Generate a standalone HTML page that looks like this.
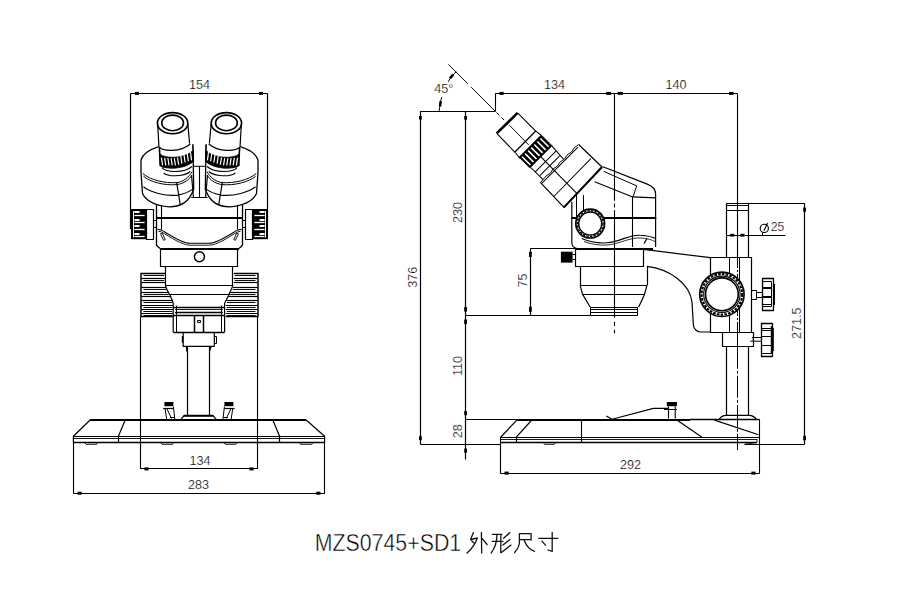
<!DOCTYPE html>
<html><head><meta charset="utf-8"><style>
html,body{margin:0;padding:0;background:#fff;}
body{width:912px;height:598px;overflow:hidden;}
svg{display:block;}
text{font-family:"Liberation Sans",sans-serif;fill:#000;stroke:#fff;stroke-width:0.22px;}
</style></head><body>
<svg width="912" height="598" viewBox="0 0 912 598">
<rect x="0" y="0" width="912" height="598" fill="#fff"/>
<g fill="none" stroke="#000" stroke-linecap="butt" stroke-linejoin="round">
<ellipse cx="172.6" cy="123.2" rx="15.2" ry="10.6" stroke-width="1.6" fill="none" />
<ellipse cx="172.6" cy="122.9" rx="10.9" ry="7.8" stroke-width="1.6" fill="none" />
<line x1="157.6" y1="123.5" x2="159.0" y2="147.5" stroke-width="1.2" />
<line x1="187.8" y1="123.5" x2="189.6" y2="143.5" stroke-width="1.2" />
<path d="M159.2,147.2 C163,151.5 180,152.5 190.3,144" stroke-width="1.2" fill="none" />
<line x1="159.4" y1="147.6" x2="160.3" y2="166.0" stroke-width="1.6" />
<line x1="192.9" y1="144.2" x2="193.3" y2="161.5" stroke-width="1.6" />
<path d="M159.8,154.0 C165,158.5 183,159.5 193.2,150.5 L193.3,161.5 C185,169.5 166,169.5 160.3,166.0 Z" stroke-width="0.8" fill="#000" />
<line x1="161.4" y1="157.7" x2="162.6" y2="165.3" stroke-width="1.2" stroke="#fff"/>
<line x1="164.62222222222223" y1="157.8111111111111" x2="165.82222222222222" y2="165.3" stroke-width="1.2" stroke="#fff"/>
<line x1="167.84444444444446" y1="157.92222222222222" x2="169.04444444444445" y2="165.3" stroke-width="1.2" stroke="#fff"/>
<line x1="171.06666666666666" y1="158.03333333333333" x2="172.26666666666665" y2="165.3" stroke-width="1.2" stroke="#fff"/>
<line x1="174.2888888888889" y1="158.14444444444445" x2="175.48888888888888" y2="165.3" stroke-width="1.2" stroke="#fff"/>
<line x1="177.51111111111112" y1="157.47777777777776" x2="178.7111111111111" y2="164.74444444444447" stroke-width="1.2" stroke="#fff"/>
<line x1="180.73333333333335" y1="156.03333333333333" x2="181.93333333333334" y2="163.63333333333335" stroke-width="1.2" stroke="#fff"/>
<line x1="183.95555555555555" y1="154.58888888888887" x2="185.15555555555554" y2="162.52222222222224" stroke-width="1.2" stroke="#fff"/>
<line x1="187.17777777777778" y1="153.14444444444445" x2="188.37777777777777" y2="161.41111111111113" stroke-width="1.2" stroke="#fff"/>
<line x1="190.4" y1="151.7" x2="191.6" y2="160.3" stroke-width="1.2" stroke="#fff"/>
<path d="M161.9,167.6 C166,172.5 184,173.5 192,166.5" stroke-width="1.1" fill="none" />
<path d="M163.6,172.8 C167,176.5 183,177.5 190.3,171.5" stroke-width="1.1" fill="none" />
<path d="M158.6,146.7 C150,149.5 143,153 141,160 L141,172.5 L142.5,193.4 C146,201 155,205.5 169.4,206.8 C181,206.5 189,202.5 193.7,189.3 L193.2,160" stroke-width="1.3" fill="none" />
<path d="M142.7,173.4 C150,180 165,183.5 177,182.6 C184,181.5 189,177 192,171.7" stroke-width="1.0" fill="none" />
<path d="M143.5,176.3 C150,182 165,185.8 177,184.6 C184,183.5 189,180 192,175" stroke-width="1.0" fill="none" />
<path d="M143.5,186.8 C150,192 165,196.5 177.8,195.1 C185,194 190,191.5 193.7,188.4" stroke-width="1.1" fill="none" />
<line x1="176.6" y1="182.2" x2="180.3" y2="205.0" stroke-width="1.2" />
<line x1="191.5" y1="175" x2="193.5" y2="198" stroke-width="1.2" />
<ellipse cx="226.4" cy="123.2" rx="15.2" ry="10.6" stroke-width="1.6" fill="none" />
<ellipse cx="226.4" cy="122.9" rx="10.9" ry="7.8" stroke-width="1.6" fill="none" />
<line x1="241.4" y1="123.5" x2="240.0" y2="147.5" stroke-width="1.2" />
<line x1="211.2" y1="123.5" x2="209.4" y2="143.5" stroke-width="1.2" />
<path d="M239.8,147.2 C236.0,151.5 219.0,152.5 208.7,144" stroke-width="1.2" fill="none" />
<line x1="239.6" y1="147.6" x2="238.7" y2="166.0" stroke-width="1.6" />
<line x1="206.1" y1="144.2" x2="205.7" y2="161.5" stroke-width="1.6" />
<path d="M239.2,154.0 C234.0,158.5 216.0,159.5 205.8,150.5 L205.7,161.5 C214.0,169.5 233.0,169.5 238.7,166.0 Z" stroke-width="0.8" fill="#000" />
<line x1="237.6" y1="157.7" x2="236.4" y2="165.3" stroke-width="1.2" stroke="#fff"/>
<line x1="234.38" y1="157.8111111111111" x2="233.18" y2="165.3" stroke-width="1.2" stroke="#fff"/>
<line x1="231.16" y1="157.92222222222222" x2="229.96" y2="165.3" stroke-width="1.2" stroke="#fff"/>
<line x1="227.93" y1="158.03333333333333" x2="226.73" y2="165.3" stroke-width="1.2" stroke="#fff"/>
<line x1="224.71" y1="158.14444444444445" x2="223.51" y2="165.3" stroke-width="1.2" stroke="#fff"/>
<line x1="221.49" y1="157.47777777777776" x2="220.29" y2="164.74444444444447" stroke-width="1.2" stroke="#fff"/>
<line x1="218.27" y1="156.03333333333333" x2="217.07" y2="163.63333333333335" stroke-width="1.2" stroke="#fff"/>
<line x1="215.04" y1="154.58888888888887" x2="213.84" y2="162.52222222222224" stroke-width="1.2" stroke="#fff"/>
<line x1="211.82" y1="153.14444444444445" x2="210.62" y2="161.41111111111113" stroke-width="1.2" stroke="#fff"/>
<line x1="208.6" y1="151.7" x2="207.4" y2="160.3" stroke-width="1.2" stroke="#fff"/>
<path d="M237.1,167.6 C233.0,172.5 215.0,173.5 207.0,166.5" stroke-width="1.1" fill="none" />
<path d="M235.4,172.8 C232.0,176.5 216.0,177.5 208.7,171.5" stroke-width="1.1" fill="none" />
<path d="M240.4,146.7 C249.0,149.5 256.0,153 258.0,160 L258.0,172.5 L256.5,193.4 C253.0,201 244.0,205.5 229.6,206.8 C218.0,206.5 210.0,202.5 205.3,189.3 L205.8,160" stroke-width="1.3" fill="none" />
<path d="M256.3,173.4 C249.0,180 234.0,183.5 222.0,182.6 C215.0,181.5 210.0,177 207.0,171.7" stroke-width="1.0" fill="none" />
<path d="M255.5,176.3 C249.0,182 234.0,185.8 222.0,184.6 C215.0,183.5 210.0,180 207.0,175" stroke-width="1.0" fill="none" />
<path d="M255.5,186.8 C249.0,192 234.0,196.5 221.2,195.1 C214.0,194 209.0,191.5 205.3,188.4" stroke-width="1.1" fill="none" />
<line x1="222.4" y1="182.2" x2="218.7" y2="205.0" stroke-width="1.2" />
<line x1="207.5" y1="175" x2="205.5" y2="198" stroke-width="1.2" />
<path d="M192.9,166.3 L206.2,166.3" stroke-width="1.0" fill="none" />
<line x1="199.5" y1="166.3" x2="199.5" y2="197.0" stroke-width="1.1" />
<line x1="191.2" y1="197.5" x2="207.5" y2="197.5" stroke-width="1.0" />
<path d="M156.5,205 L156.5,245.2 L160,248.5" stroke-width="1.3" fill="none" />
<line x1="161.5" y1="205" x2="161.5" y2="229.3" stroke-width="1.1" />
<path d="M160.6,233.8 L163.6,240.3 L165.2,239.6 L162.4,233.2 Z" stroke-width="0.9" fill="none" />
<path d="M242.5,205 L242.5,245.2 L239.0,248.5" stroke-width="1.3" fill="none" />
<line x1="237.5" y1="205" x2="237.5" y2="229.3" stroke-width="1.1" />
<path d="M238.4,233.8 L235.4,240.3 L233.8,239.6 L236.6,233.2 Z" stroke-width="0.9" fill="none" />
<line x1="156.5" y1="218" x2="242.5" y2="218" stroke-width="2.0" />
<path d="M157.5,229.3 L161.7,230.1 C170,235 182,243.3 190.1,243.3 L208.9,243.3 C217,243.3 229,235 237.3,230.1 L241.5,229.3" stroke-width="1.1" fill="none" />
<path d="M158.5,231.3 L161.7,232.0 C170,237 182,245.2 190.1,245.2 L208.9,245.2 C217,245.2 229,237 237.3,232.0 L240.5,231.3" stroke-width="0.9" fill="none" />
<line x1="160" y1="249" x2="239" y2="249" stroke-width="2.2" />
<rect x="146.5" y="209.5" width="7.0" height="30.0" stroke-width="1.2" fill="none"/>
<rect x="131.0" y="209.0" width="15.599999999999994" height="30.2" fill="#000" stroke="none"/>
<line x1="133.5" y1="211.0" x2="133.5" y2="237.5" stroke-width="1.0" stroke="#fff"/>
<line x1="134.4" y1="215.5" x2="144.6" y2="215.5" stroke-width="1.3" stroke="#fff"/>
<line x1="134.4" y1="222.5" x2="144.6" y2="222.5" stroke-width="1.3" stroke="#fff"/>
<line x1="134.4" y1="229.5" x2="144.6" y2="229.5" stroke-width="1.3" stroke="#fff"/>
<line x1="134.4" y1="236.5" x2="144.6" y2="236.5" stroke-width="1.3" stroke="#fff"/>
<line x1="134.4" y1="212" x2="139.5" y2="212" stroke-width="2.0" stroke="#fff"/>
<line x1="134.4" y1="220" x2="139.5" y2="220" stroke-width="2.0" stroke="#fff"/>
<line x1="134.4" y1="226" x2="139.5" y2="226" stroke-width="2.0" stroke="#fff"/>
<line x1="134.4" y1="234" x2="139.5" y2="234" stroke-width="2.0" stroke="#fff"/>
<rect x="153.5" y="220.5" width="3.0" height="7.0" stroke-width="1.0" fill="none"/>
<rect x="245.5" y="209.5" width="7.0" height="30.0" stroke-width="1.2" fill="none"/>
<rect x="252.4" y="209.0" width="15.599999999999994" height="30.2" fill="#000" stroke="none"/>
<line x1="265.5" y1="211.0" x2="265.5" y2="237.5" stroke-width="1.0" stroke="#fff"/>
<line x1="264.6" y1="215.5" x2="254.4" y2="215.5" stroke-width="1.3" stroke="#fff"/>
<line x1="264.6" y1="222.5" x2="254.4" y2="222.5" stroke-width="1.3" stroke="#fff"/>
<line x1="264.6" y1="229.5" x2="254.4" y2="229.5" stroke-width="1.3" stroke="#fff"/>
<line x1="264.6" y1="236.5" x2="254.4" y2="236.5" stroke-width="1.3" stroke="#fff"/>
<line x1="264.6" y1="212" x2="259.5" y2="212" stroke-width="2.0" stroke="#fff"/>
<line x1="264.6" y1="220" x2="259.5" y2="220" stroke-width="2.0" stroke="#fff"/>
<line x1="264.6" y1="226" x2="259.5" y2="226" stroke-width="2.0" stroke="#fff"/>
<line x1="264.6" y1="234" x2="259.5" y2="234" stroke-width="2.0" stroke="#fff"/>
<rect x="242.5" y="220.5" width="3.0" height="7.0" stroke-width="1.0" fill="none"/>
<rect x="160.5" y="249.5" width="77.0" height="17.0" stroke-width="1.2" fill="none"/>
<circle cx="199.4" cy="256.8" r="5.0" stroke-width="1.5" fill="none" />
<line x1="165.5" y1="266.8" x2="165.5" y2="285.2" stroke-width="1.2" />
<line x1="232.5" y1="266.8" x2="232.5" y2="285.2" stroke-width="1.2" />
<line x1="165.2" y1="285.5" x2="232.9" y2="285.5" stroke-width="1.2" />
<path d="M165.2,285.2 C166.5,290 168.5,292.5 170.2,295.2 L173.2,303.2 L173.2,332.1" stroke-width="1.2" fill="none" />
<path d="M232.9,285.2 C231.5,290 229.5,292.5 228.7,295.2 L224.6,303.2 L224.6,332.1" stroke-width="1.2" fill="none" />
<line x1="168.5" y1="294.5" x2="230.5" y2="294.5" stroke-width="1.2" />
<line x1="176.5" y1="305.5" x2="176.5" y2="332.1" stroke-width="1.0" />
<line x1="221.5" y1="305.5" x2="221.5" y2="332.1" stroke-width="1.0" />
<line x1="173.2" y1="307.5" x2="224.6" y2="307.5" stroke-width="1.3" />
<line x1="175.0" y1="309.5" x2="222.9" y2="309.5" stroke-width="0.9" />
<line x1="175.0" y1="312.5" x2="222.9" y2="312.5" stroke-width="1.3" />
<line x1="173.2" y1="315.5" x2="224.6" y2="315.5" stroke-width="1.3" />
<line x1="173.2" y1="332.5" x2="224.6" y2="332.5" stroke-width="1.3" />
<line x1="194.5" y1="315.0" x2="194.5" y2="332.1" stroke-width="1.5" />
<line x1="203.5" y1="315.0" x2="203.5" y2="332.1" stroke-width="1.5" />
<rect x="197.5" y="320.5" width="3.0" height="2.0" stroke-width="1.0" fill="none"/>
<path d="M165.2,273.4 L141.0,273.4 L141.0,316.6 L173.2,316.6" stroke-width="1.5" fill="none" />
<line x1="141.5" y1="278.5" x2="165.2" y2="278.5" stroke-width="1.2" />
<line x1="141.5" y1="282.5" x2="165.2" y2="282.5" stroke-width="1.2" />
<line x1="141.5" y1="287.5" x2="166.15" y2="287.5" stroke-width="1.2" />
<line x1="141.5" y1="292.5" x2="168.79999999999998" y2="292.5" stroke-width="1.2" />
<line x1="141.5" y1="296.5" x2="170.83749999999998" y2="296.5" stroke-width="1.2" />
<line x1="141.5" y1="300.5" x2="172.33749999999998" y2="300.5" stroke-width="1.2" />
<line x1="141.5" y1="305.5" x2="173.2" y2="305.5" stroke-width="1.2" />
<line x1="141.5" y1="309.5" x2="173.2" y2="309.5" stroke-width="1.2" />
<line x1="141.5" y1="313.5" x2="173.2" y2="313.5" stroke-width="1.2" />
<line x1="143.5" y1="275.5" x2="164.2" y2="275.5" stroke-width="0.95" />
<line x1="143.5" y1="280.5" x2="164.2" y2="280.5" stroke-width="0.95" />
<line x1="143.5" y1="289.5" x2="166.25" y2="289.5" stroke-width="0.95" />
<line x1="143.5" y1="294.5" x2="168.79999999999998" y2="294.5" stroke-width="0.95" />
<line x1="143.5" y1="302.5" x2="172.05" y2="302.5" stroke-width="0.95" />
<line x1="143.5" y1="307.5" x2="172.2" y2="307.5" stroke-width="0.95" />
<line x1="143.5" y1="311.5" x2="172.2" y2="311.5" stroke-width="0.95" />
<line x1="143.5" y1="315.5" x2="172.2" y2="315.5" stroke-width="0.95" />
<path d="M233.8,273.4 L258.0,273.4 L258.0,316.6 L225.8,316.6" stroke-width="1.5" fill="none" />
<line x1="257.5" y1="278.5" x2="233.8" y2="278.5" stroke-width="1.2" />
<line x1="257.5" y1="282.5" x2="233.8" y2="282.5" stroke-width="1.2" />
<line x1="257.5" y1="287.5" x2="232.85" y2="287.5" stroke-width="1.2" />
<line x1="257.5" y1="292.5" x2="230.2" y2="292.5" stroke-width="1.2" />
<line x1="257.5" y1="296.5" x2="228.16" y2="296.5" stroke-width="1.2" />
<line x1="257.5" y1="300.5" x2="226.66" y2="300.5" stroke-width="1.2" />
<line x1="257.5" y1="305.5" x2="225.8" y2="305.5" stroke-width="1.2" />
<line x1="257.5" y1="309.5" x2="225.8" y2="309.5" stroke-width="1.2" />
<line x1="257.5" y1="313.5" x2="225.8" y2="313.5" stroke-width="1.2" />
<line x1="255.5" y1="275.5" x2="234.8" y2="275.5" stroke-width="0.95" />
<line x1="255.5" y1="280.5" x2="234.8" y2="280.5" stroke-width="0.95" />
<line x1="255.5" y1="289.5" x2="232.75" y2="289.5" stroke-width="0.95" />
<line x1="255.5" y1="294.5" x2="230.2" y2="294.5" stroke-width="0.95" />
<line x1="255.5" y1="302.5" x2="226.95" y2="302.5" stroke-width="0.95" />
<line x1="255.5" y1="307.5" x2="226.8" y2="307.5" stroke-width="0.95" />
<line x1="255.5" y1="311.5" x2="226.8" y2="311.5" stroke-width="0.95" />
<line x1="255.5" y1="315.5" x2="226.8" y2="315.5" stroke-width="0.95" />
<path d="M183.2,332.1 L183.2,346.3 L214.3,346.3 L214.3,332.1" stroke-width="1.2" fill="none" />
<line x1="182.5" y1="336" x2="182.5" y2="342.6" stroke-width="1.4" />
<rect x="214.5" y="336.5" width="2.0" height="7.0" stroke-width="1.0" fill="none"/>
<line x1="187.5" y1="346.3" x2="187.5" y2="415.3" stroke-width="1.2" />
<line x1="209.5" y1="346.3" x2="209.5" y2="415.3" stroke-width="1.2" />
<line x1="186.6" y1="346.5" x2="187.0" y2="351.5" stroke-width="1.6" />
<line x1="210.8" y1="346.8" x2="209.6" y2="350.8" stroke-width="1.4" />
<path d="M180.9,419.6 L184.1,415.3 L212.9,415.3 L216.5,419.6" stroke-width="1.3" fill="none" />
<line x1="183.5" y1="416.5" x2="213.5" y2="416.5" stroke-width="0.8" />
<rect x="164.4" y="402.0" width="9.0" height="4.2" fill="#000" stroke="none"/>
<line x1="163.2" y1="408.5" x2="173.5" y2="408.5" stroke-width="1.2" />
<path d="M165.0,408 L166.6,419 M173.4,406.5 L174.8,419 M167,409 L171.5,418.5 M170,417.5 L174.5,417.5" stroke-width="1.0" fill="none" />
<rect x="224.4" y="402.0" width="9.0" height="4.2" fill="#000" stroke="none"/>
<line x1="234.6" y1="408.5" x2="224.3" y2="408.5" stroke-width="1.2" />
<path d="M232.8,408 L231.2,419 M224.4,406.5 L223.0,419 M230.8,409 L226.3,418.5 M227.8,417.5 L223.3,417.5" stroke-width="1.0" fill="none" />
<line x1="90.1" y1="420" x2="306.2" y2="420" stroke-width="2.0" />
<path d="M90.1,420.0 L73.4,436.3 L73.4,442.5" stroke-width="1.2" fill="none" />
<path d="M306.2,420.0 L324.6,436.3 L324.6,442.5" stroke-width="1.2" fill="none" />
<line x1="73.4" y1="436.5" x2="324.6" y2="436.5" stroke-width="1.2" />
<line x1="73.4" y1="438.5" x2="324.6" y2="438.5" stroke-width="0.9" />
<line x1="73.4" y1="442.5" x2="324.6" y2="442.5" stroke-width="1.3" />
<path d="M125.2,420.1 L118.5,436 L118.5,442.3" stroke-width="1.2" fill="none" />
<path d="M272.8,420.1 L279.5,436 L279.5,442.3" stroke-width="1.2" fill="none" />
<path d="M85,442.5 L86,444.3 L96.6,444.3 L97.6,442.5" stroke-width="0.9" fill="none" />
<path d="M161,442.5 L162,444.3 L172.7,444.3 L173.7,442.5" stroke-width="0.9" fill="none" />
<path d="M224.3,442.5 L225.3,444.3 L235.8,444.3 L236.8,442.5" stroke-width="0.9" fill="none" />
<path d="M299.5,442.5 L300.5,444.3 L311.9,444.3 L312.9,442.5" stroke-width="0.9" fill="none" />
<g transform="translate(506.75 122.55) rotate(45)">
<path d="M0.8,-14.5 L0.6,14.8" stroke-width="2.6" fill="none" />
<line x1="0.8" y1="-14.5" x2="26.9" y2="-14.5" stroke-width="1.1" />
<line x1="0.6" y1="14.8" x2="27.2" y2="15.2" stroke-width="1.1" />
<line x1="3.5" y1="0" x2="31.3" y2="0.3" stroke-width="0.9" />
<line x1="26.6" y1="15" x2="26.5" y2="-14.5" stroke-width="1.3" />
<line x1="26.6" y1="-14.5" x2="33.0" y2="-15.4" stroke-width="1.0" />
<line x1="27.2" y1="15.2" x2="34.7" y2="16" stroke-width="1.0" />
<rect x="33.2" y="-15.6" width="15.2" height="31.4" fill="#000" stroke="#000" stroke-width="0.8"/>
<line x1="35.0" y1="-12.5" x2="46.8" y2="-12.5" stroke-width="1.6" stroke="#fff"/>
<line x1="35.0" y1="-8.2" x2="46.8" y2="-8.2" stroke-width="1.6" stroke="#fff"/>
<line x1="35.0" y1="-3.9000000000000004" x2="46.8" y2="-3.9000000000000004" stroke-width="1.6" stroke="#fff"/>
<line x1="35.0" y1="0.3999999999999986" x2="46.8" y2="0.3999999999999986" stroke-width="1.6" stroke="#fff"/>
<line x1="35.0" y1="4.699999999999999" x2="46.8" y2="4.699999999999999" stroke-width="1.6" stroke="#fff"/>
<line x1="35.0" y1="9.0" x2="46.8" y2="9.0" stroke-width="1.6" stroke="#fff"/>
<line x1="35.0" y1="13.299999999999997" x2="46.8" y2="13.299999999999997" stroke-width="1.6" stroke="#fff"/>
<line x1="48.4" y1="-15.3" x2="66" y2="-14.2" stroke-width="1.0" />
<line x1="48.9" y1="14.8" x2="66" y2="14.6" stroke-width="1.0" />
<line x1="55.0" y1="-14.6" x2="55.0" y2="15.0" stroke-width="1.0" />
<line x1="61.0" y1="-13.8" x2="61.0" y2="14.2" stroke-width="1.0" />
<line x1="48.5" y1="0.2" x2="100" y2="0.6" stroke-width="1.1" />
<path d="M66.3,-35.3 L98.8,-36 L100.4,19.5 L66,18.5" stroke-width="1.2" fill="none" />
<line x1="67.8" y1="-33" x2="67.8" y2="18" stroke-width="1.0" />
<path d="M66.3,-35 L65.6,-30 L66.6,-25 L65.6,-20 L66.6,-15 L65.6,-10 L66.6,-5 L65.6,0 L66.6,5 L65.6,10 L66.3,18.5" stroke-width="0.9" fill="none" />
<line x1="85" y1="-34" x2="85.6" y2="19" stroke-width="1.0" />
<path d="M98.8,-36 L100.4,19.5" stroke-width="2.0" fill="none" />
</g>
<path d="M602.9,166.8 L647.3,184.1 C652,186 655.6,189 655.6,194 L655.6,247" stroke-width="1.2" fill="none" />
<path d="M603.6,171.3 L636.7,185.9 L633.0,196.9" stroke-width="1.0" fill="none" />
<path d="M594.6,181.8 L632.7,196.9 L655.6,197.9" stroke-width="1.1" fill="none" />
<line x1="632.5" y1="196.9" x2="632.5" y2="247" stroke-width="1.1" />
<path d="M571.8,201.8 L571.8,243 C572,246 574,248 577,248.5" stroke-width="1.2" fill="none" />
<line x1="576.5" y1="195" x2="576.5" y2="217.7" stroke-width="1.0" />
<line x1="583.5" y1="195" x2="583.5" y2="210.5" stroke-width="1.0" />
<line x1="571.8" y1="218" x2="656.2" y2="218" stroke-width="2.0" />
<circle cx="590.2" cy="223.6" r="14.4" stroke-width="1.7" fill="#fff" />
<circle cx="590.2" cy="223.6" r="12.9" stroke-width="1.4" fill="none" stroke-dasharray="2.4 1.2"/>
<circle cx="590.2" cy="223.6" r="11.5" stroke-width="1.5" fill="none" />
<path d="M581.8,238.6 C590,242 598,243.5 606.9,242.8 C620,242 630,234 640.3,235.3 C648,236 653,237 655.4,238.6" stroke-width="1.1" fill="none" />
<path d="M584,241.5 C592,244.5 600,245.5 607,245 C620,244 630,237 641,238 C648,238.5 652,240 655,241.5" stroke-width="0.8" fill="none" />
<path d="M644,243.5 L647,238.5" stroke-width="1.3" fill="none" />
<line x1="575" y1="249" x2="653" y2="249" stroke-width="2.2" />
<line x1="614.5" y1="93.4" x2="614.5" y2="200.8" stroke-width="1.1" />
<line x1="614.5" y1="203.5" x2="614.5" y2="207.5" stroke-width="1.1" />
<line x1="614.5" y1="210.2" x2="614.5" y2="317.6" stroke-width="1.1" />
<line x1="614.5" y1="321.7" x2="614.5" y2="325.9" stroke-width="1.1" />
<line x1="614.5" y1="329.7" x2="614.5" y2="333.4" stroke-width="1.1" />
<rect x="575.5" y="249.5" width="68.0" height="17.0" stroke-width="1.2" fill="none"/>
<line x1="575.1" y1="249" x2="643.7" y2="249" stroke-width="2.0" />
<rect x="560.9" y="251.7" width="11.7" height="10.9" fill="#000" stroke="none"/>
<line x1="572.6" y1="254.5" x2="575.1" y2="254.5" stroke-width="1.0" />
<line x1="572.6" y1="259.5" x2="575.1" y2="259.5" stroke-width="1.0" />
<line x1="643.7" y1="249.4" x2="710.2" y2="257.7" stroke-width="1.2" />
<path d="M647,266.3 C670,269 690,284 692,302 L693.4,325.3 C694,329 697,332 700,332 L710.2,332" stroke-width="1.2" fill="none" />
<line x1="580.5" y1="266" x2="580.5" y2="285.2" stroke-width="1.2" />
<line x1="647.5" y1="266" x2="647.5" y2="285.2" stroke-width="1.2" />
<line x1="580.1" y1="285.5" x2="647" y2="285.5" stroke-width="1.2" />
<path d="M580.1,285.2 L582.6,294.4 L590.2,307" stroke-width="1.2" fill="none" />
<path d="M647,285.2 L644.5,294.4 L638.7,307" stroke-width="1.2" fill="none" />
<line x1="582.6" y1="294.5" x2="644.5" y2="294.5" stroke-width="1.2" />
<line x1="590.2" y1="307.5" x2="637.8" y2="307.5" stroke-width="1.2" />
<line x1="590.2" y1="309.5" x2="637.8" y2="309.5" stroke-width="1.2" />
<line x1="590.2" y1="312.5" x2="637.8" y2="312.5" stroke-width="1.2" />
<line x1="590.2" y1="315.5" x2="637.8" y2="315.5" stroke-width="1.2" />
<line x1="590.5" y1="307.5" x2="590.5" y2="315.1" stroke-width="1.0" />
<line x1="637.5" y1="307.5" x2="637.5" y2="315.1" stroke-width="1.0" />
<rect x="726.5" y="203.5" width="22.0" height="54.0" stroke-width="1.2" fill="none"/>
<line x1="726.4" y1="205.5" x2="748.6" y2="205.5" stroke-width="1.0" />
<line x1="726.4" y1="210.5" x2="748.6" y2="210.5" stroke-width="1.0" />
<line x1="737.5" y1="93.4" x2="737.5" y2="258" stroke-width="1.1" />
<rect x="710.5" y="257.5" width="41.0" height="75.0" stroke-width="1.2" fill="none"/>
<line x1="729.5" y1="257.5" x2="729.5" y2="332" stroke-width="1.0" />
<line x1="737.5" y1="258" x2="737.5" y2="332" stroke-width="1.0" stroke-dasharray="10 2 2 2"/>
<line x1="739.5" y1="257.5" x2="739.5" y2="332" stroke-width="1.0" />
<circle cx="721.9" cy="294.3" r="22.2" stroke-width="1.6" fill="#fff" />
<circle cx="721.9" cy="294.3" r="20.3" stroke-width="2.2" fill="none" stroke-dasharray="2.6 1.2"/>
<circle cx="721.9" cy="294.3" r="18.2" stroke-width="1.1" fill="none" />
<circle cx="721.9" cy="294.3" r="16.4" stroke-width="1.6" fill="none" />
<rect x="751.5" y="290.5" width="5.0" height="9.0" stroke-width="1.0" fill="none"/>
<rect x="756.5" y="292.5" width="6.0" height="5.0" stroke-width="1.0" fill="none"/>
<rect x="762.5" y="278.5" width="11.0" height="32.0" stroke-width="1.3" fill="none"/>
<line x1="762.4" y1="281.5" x2="771.5" y2="281.5" stroke-width="1.0" />
<line x1="762.4" y1="287.5" x2="771.5" y2="287.5" stroke-width="1.0" />
<line x1="762.4" y1="288.5" x2="771.5" y2="288.5" stroke-width="1.0" />
<line x1="762.4" y1="296.5" x2="771.5" y2="296.5" stroke-width="1.0" />
<line x1="762.4" y1="297.5" x2="771.5" y2="297.5" stroke-width="1.0" />
<line x1="762.4" y1="304.5" x2="771.5" y2="304.5" stroke-width="1.0" />
<line x1="762.4" y1="306.5" x2="771.5" y2="306.5" stroke-width="1.0" />
<line x1="771.5" y1="281.4" x2="771.5" y2="306.3" stroke-width="1.0" />
<line x1="774" y1="284" x2="774" y2="305" stroke-width="2.0" />
<rect x="722.5" y="332.5" width="31.0" height="14.0" stroke-width="1.2" fill="none"/>
<line x1="737.5" y1="332.3" x2="737.5" y2="346.3" stroke-width="1.0" />
<path d="M751.8,337.5 L761.4,337.5 M750.4,341.2 L761.4,341.2 M753.3,337.5 L753.3,341.2" stroke-width="1.0" fill="none" />
<rect x="761.5" y="323.5" width="11.0" height="33.0" stroke-width="1.3" fill="none"/>
<line x1="761.4" y1="328.5" x2="771" y2="328.5" stroke-width="1.0" />
<line x1="761.4" y1="330.5" x2="771" y2="330.5" stroke-width="1.0" />
<line x1="761.4" y1="336.5" x2="771" y2="336.5" stroke-width="1.0" />
<line x1="761.4" y1="345.5" x2="771" y2="345.5" stroke-width="1.0" />
<line x1="761.4" y1="353.5" x2="771" y2="353.5" stroke-width="1.0" />
<line x1="771.5" y1="326" x2="771.5" y2="354" stroke-width="1.4" />
<line x1="773" y1="328" x2="773" y2="351" stroke-width="1.6" />
<line x1="726.5" y1="346.8" x2="726.5" y2="415.3" stroke-width="1.2" />
<line x1="748.5" y1="346.8" x2="748.5" y2="415.3" stroke-width="1.2" />
<line x1="737.5" y1="346.8" x2="737.5" y2="450" stroke-width="1.0" stroke-dasharray="22 2 3 2"/>
<path d="M719.4,419.2 C721,416.5 723,415.3 726,415.3 L749,415.3 C752,415.3 754.5,416.5 756.2,419.2" stroke-width="1.3" fill="none" />
<line x1="516.8" y1="420" x2="690" y2="420" stroke-width="2.0" />
<line x1="690" y1="419.5" x2="759.5" y2="419.5" stroke-width="1.3" />
<path d="M516.8,420.1 L500.4,437.5" stroke-width="1.2" fill="none" />
<path d="M531.8,420.0 L516.5,436.8 L516.5,442.5" stroke-width="1.2" fill="none" />
<line x1="500.4" y1="437.5" x2="759.5" y2="437.5" stroke-width="1.2" />
<line x1="500.4" y1="439.5" x2="757" y2="439.5" stroke-width="0.9" />
<line x1="500.4" y1="442.5" x2="757" y2="442.5" stroke-width="1.3" />
<line x1="500.5" y1="437" x2="500.5" y2="473.6" stroke-width="1.1" />
<line x1="759.5" y1="419.5" x2="759.5" y2="473.6" stroke-width="1.1" />
<line x1="581.5" y1="420" x2="581.5" y2="442.5" stroke-width="1.1" />
<line x1="676.9" y1="420.1" x2="702" y2="437.2" stroke-width="1.2" />
<line x1="714.5" y1="420.1" x2="758.5" y2="434.8" stroke-width="1.2" />
<path d="M543.5,442.5 L544.5,444.3 L554.3,444.3 L555.3,442.5" stroke-width="0.9" fill="none" />
<path d="M757,439 L757,442.5 L744.5,444.3" stroke-width="0.9" fill="none" />
<path d="M606.3,416 L612,419.3 L653.4,408.4 L668.5,408.4" stroke-width="1.1" fill="none" />
<rect x="666.8" y="402" width="10.1" height="4.2" fill="#000" stroke="none"/>
<path d="M668.5,406.2 L668.5,418.5 M675.2,406.2 L675.2,418.5" stroke-width="1.1" fill="none" />
<line x1="664" y1="409.5" x2="677" y2="409.5" stroke-width="1.0" />
<line x1="130.5" y1="93.5" x2="267.5" y2="93.5" stroke-width="1.2" />
<line x1="130.5" y1="93.4" x2="130.5" y2="229" stroke-width="1.2" />
<line x1="267.5" y1="93.4" x2="267.5" y2="229" stroke-width="1.2" />
<rect x="135" y="91.9" width="4" height="3" fill="#000" stroke="none"/>
<rect x="259" y="91.9" width="4" height="3" fill="#000" stroke="none"/>
<text x="199.4" y="89.0" font-size="12.6" text-anchor="middle" >154</text>
<line x1="140.5" y1="317" x2="140.5" y2="469" stroke-width="1.1" />
<line x1="257.5" y1="317" x2="257.5" y2="469" stroke-width="1.1" />
<line x1="140.5" y1="468.5" x2="257.7" y2="468.5" stroke-width="1.2" />
<rect x="144.4" y="467.4" width="4.2" height="3" fill="#000" stroke="none"/>
<rect x="249.4" y="467.4" width="4.2" height="3" fill="#000" stroke="none"/>
<text x="200.0" y="465.3" font-size="12.6" text-anchor="middle" >134</text>
<line x1="73.5" y1="442" x2="73.5" y2="493.5" stroke-width="1.1" />
<line x1="324.5" y1="442" x2="324.5" y2="493.5" stroke-width="1.1" />
<line x1="73.4" y1="493.5" x2="324.6" y2="493.5" stroke-width="1.2" />
<rect x="77.6" y="491.7" width="4.1" height="3" fill="#000" stroke="none"/>
<rect x="316.3" y="491.7" width="4.1" height="3" fill="#000" stroke="none"/>
<text x="198.5" y="488.7" font-size="12.6" text-anchor="middle" >283</text>
<line x1="495.3" y1="93.5" x2="737.3" y2="93.5" stroke-width="1.2" />
<line x1="495.5" y1="93.4" x2="495.5" y2="111.3" stroke-width="1.1" />
<rect x="499.5" y="91.9" width="4.2" height="3" fill="#000" stroke="none"/>
<rect x="606.1" y="91.9" width="5" height="3" fill="#000" stroke="none"/>
<rect x="617.8" y="91.9" width="5" height="3" fill="#000" stroke="none"/>
<rect x="729.0" y="91.9" width="4.6" height="3" fill="#000" stroke="none"/>
<text x="554.6" y="89.2" font-size="12.6" text-anchor="middle" >134</text>
<text x="676.0" y="89.2" font-size="12.6" text-anchor="middle" >140</text>
<line x1="420.1" y1="111.5" x2="495.3" y2="111.5" stroke-width="1.2" />
<line x1="448.5" y1="64.5" x2="467.7" y2="83.7" stroke-width="0.95" />
<line x1="471.1" y1="87.1" x2="495.3" y2="111.3" stroke-width="0.95" />
<line x1="496.5" y1="112.5" x2="499.5" y2="115.5" stroke-width="1.0" />
<line x1="501.5" y1="117.5" x2="504" y2="120" stroke-width="1.0" />
<path d="M456.3,71.8 C453,74.5 450,78 448.3,81.7" stroke-width="1.0" fill="none" />
<path d="M441.8,97.0 C440.5,101 439.5,106 439.2,111" stroke-width="1.0" fill="none" />
<path d="M453.2,74.6 L449.9,78.4" stroke-width="2.4"/>
<path d="M440.7,101.0 L440.0,106.5" stroke-width="2.4"/>
<text x="443.8" y="92.5" font-size="12.6" text-anchor="middle" >45&#176;</text>
<line x1="420.5" y1="111.3" x2="420.5" y2="444.3" stroke-width="1.2" />
<rect x="419" y="116" width="2.8" height="3.6" fill="#000" stroke="none"/>
<rect x="419" y="436.3" width="2.8" height="3.8" fill="#000" stroke="none"/>
<text x="417.4" y="277.2" font-size="12.6" text-anchor="middle" transform="rotate(-90 417.4 277.2)" >376</text>
<line x1="420.4" y1="444.5" x2="500.4" y2="444.5" stroke-width="1.1" />
<line x1="465.5" y1="111.3" x2="465.5" y2="459.4" stroke-width="1.2" />
<rect x="464.2" y="116" width="2.8" height="3.6" fill="#000" stroke="none"/>
<rect x="464.2" y="307" width="2.8" height="4.6" fill="#000" stroke="none"/>
<rect x="464.2" y="319.5" width="2.8" height="4.6" fill="#000" stroke="none"/>
<rect x="464.2" y="411.1" width="2.8" height="4.1" fill="#000" stroke="none"/>
<rect x="464.2" y="448.5" width="2.8" height="4.2" fill="#000" stroke="none"/>
<line x1="465.6" y1="315.5" x2="590.2" y2="315.5" stroke-width="1.1" />
<line x1="465.6" y1="419.5" x2="516.8" y2="419.5" stroke-width="1.1" />
<text x="462.5" y="212.6" font-size="12.6" text-anchor="middle" transform="rotate(-90 462.5 212.6)" >230</text>
<text x="462.3" y="366.0" font-size="12.6" text-anchor="middle" transform="rotate(-90 462.3 366.0)" >110</text>
<text x="462.5" y="431.3" font-size="12.6" text-anchor="middle" transform="rotate(-90 462.5 431.3)" >28</text>
<line x1="530.5" y1="248.5" x2="530.5" y2="315.2" stroke-width="1.2" />
<line x1="530.4" y1="248.5" x2="575.1" y2="248.5" stroke-width="1.1" />
<rect x="529" y="251.9" width="2.8" height="5" fill="#000" stroke="none"/>
<rect x="529" y="306.8" width="2.8" height="5" fill="#000" stroke="none"/>
<text x="527.0" y="280.5" font-size="12.6" text-anchor="middle" transform="rotate(-90 527.0 280.5)" >75</text>
<line x1="500.4" y1="473.5" x2="759.5" y2="473.5" stroke-width="1.2" />
<rect x="504.5" y="471.6" width="4.2" height="3" fill="#000" stroke="none"/>
<rect x="751.3" y="471.6" width="4.2" height="3" fill="#000" stroke="none"/>
<text x="630.4" y="469.0" font-size="12.6" text-anchor="middle" >292</text>
<line x1="726.4" y1="235.5" x2="785.4" y2="235.5" stroke-width="1.1" />
<rect x="730.2" y="233.8" width="4.2" height="2.8" fill="#000" stroke="none"/>
<rect x="740.3" y="233.8" width="4.2" height="2.8" fill="#000" stroke="none"/>
<circle cx="764.3" cy="228.4" r="4.1" stroke-width="1.1" fill="none" />
<line x1="767.6" y1="223.0" x2="763.9" y2="230.8" stroke-width="1.1" />
<line x1="762.5" y1="232.5" x2="762.5" y2="235.2" stroke-width="1.0" />
<text x="777.5" y="230.9" font-size="12.2" text-anchor="middle" >25</text>
<line x1="748.6" y1="203.5" x2="804.6" y2="203.5" stroke-width="1.1" />
<line x1="804.5" y1="203.4" x2="804.5" y2="444.3" stroke-width="1.2" />
<line x1="744.5" y1="444.5" x2="804.6" y2="444.5" stroke-width="1.1" />
<rect x="803.2" y="207.6" width="2.8" height="4.1" fill="#000" stroke="none"/>
<rect x="803.2" y="435.8" width="2.8" height="4.4" fill="#000" stroke="none"/>
<text x="801.3" y="323.2" font-size="12.6" text-anchor="middle" transform="rotate(-90 801.3 323.2)" >271.5</text>
<text x="314.7" y="550.8" font-size="23" text-anchor="start" textLength="146.5" lengthAdjust="spacingAndGlyphs" style="fill:#000;stroke-width:0.45px">MZS0745+SD1</text>
<path d="M473.4,532.6 L470.6,539.5 M470.6,539.5 L477.4,538.0 C475,545 471,549.5 467.1,553.1 M471.7,540.8 L474.5,543.4" stroke="#111" stroke-width="1.3" fill="none" stroke-linecap="round"/>
<path d="M481.4,532.3 L481.7,553.1 M482.5,538.8 L487.1,544.5" stroke="#111" stroke-width="1.3" fill="none" stroke-linecap="round"/>
<path d="M492.2,534.3 L501.9,534.3 M492.2,541.4 L503.0,541.4 M497.0,534.3 C497,542 495,548 491.1,553.1 M500.8,534.3 L500.8,552.5" stroke="#111" stroke-width="1.3" fill="none" stroke-linecap="round"/>
<path d="M509.9,532.6 L503.6,538.3 M509.9,539.4 L503.0,545.1 M511.0,545.1 L501.3,552.5" stroke="#111" stroke-width="1.3" fill="none" stroke-linecap="round"/>
<path d="M519.4,533.7 L531.1,533.7 L531.1,540.0 M519.4,539.7 L531.1,539.7 M519.4,533.7 L519.4,542.8 C519,547 517,550 514.6,552.5 M524.3,540.5 C526,545 529,549.5 534.5,551.4" stroke="#111" stroke-width="1.3" fill="none" stroke-linecap="round"/>
<path d="M538.8,538.3 L557.9,538.3 M552.2,532.3 L552.2,551.4 L548.0,550.0 M541.9,541.1 L545.6,545.1" stroke="#111" stroke-width="1.3" fill="none" stroke-linecap="round"/>
</g>
</svg>
</body></html>
